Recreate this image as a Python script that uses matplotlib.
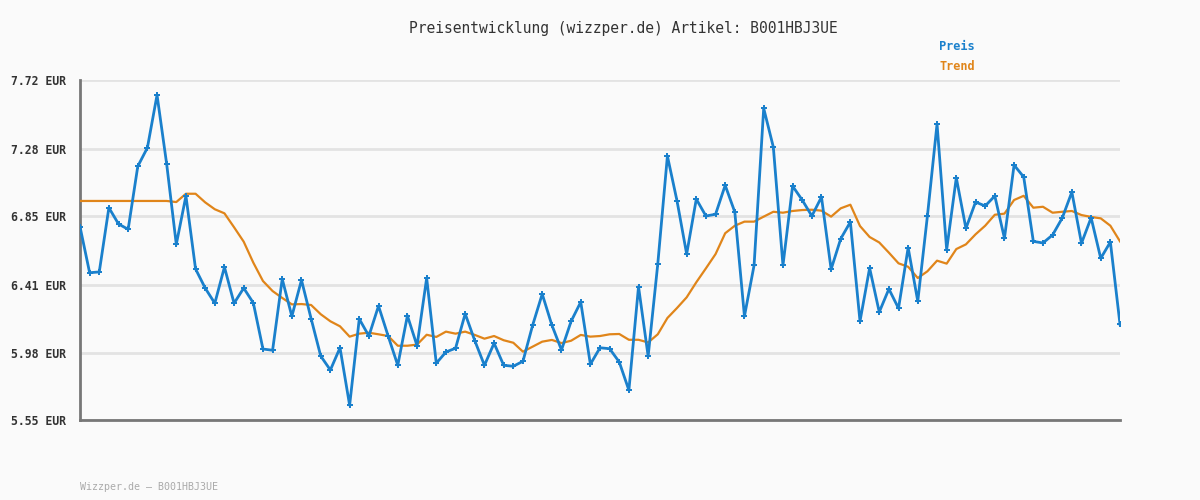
import matplotlib
matplotlib.use('Agg')
import matplotlib.pyplot as plt

# price readings (EUR), one per sample
preis = [6.784, 6.490, 6.495, 6.905, 6.801, 6.767, 7.169, 7.288, 7.624, 7.184,
         6.671, 6.980, 6.514, 6.392, 6.295, 6.526, 6.295, 6.392, 6.297, 6.003,
         5.995, 6.450, 6.212, 6.443, 6.197, 5.958, 5.869, 6.011, 5.644, 6.195,
         6.086, 6.278, 6.086, 5.899, 6.216, 6.024, 6.456, 5.912, 5.984, 6.008,
         6.228, 6.056, 5.899, 6.040, 5.899, 5.893, 5.925, 6.154, 6.354, 6.156,
         5.997, 6.180, 6.303, 5.906, 6.011, 6.005, 5.920, 5.740, 6.401, 5.957,
         6.546, 7.235, 6.948, 6.609, 6.960, 6.852, 6.863, 7.048, 6.877, 6.212,
         6.537, 7.539, 7.292, 6.537, 7.043, 6.954, 6.852, 6.973, 6.512, 6.707,
         6.814, 6.180, 6.520, 6.239, 6.386, 6.263, 6.650, 6.308, 6.852, 7.439,
         6.637, 7.096, 6.773, 6.941, 6.916, 6.980, 6.710, 7.177, 7.101, 6.690,
         6.680, 6.731, 6.839, 7.005, 6.678, 6.841, 6.582, 6.686, 6.161]

trend = [6.948, 6.948, 6.948, 6.948, 6.948, 6.948, 6.948, 6.948, 6.948, 6.948,
         6.941, 6.994, 6.994, 6.939, 6.895, 6.869, 6.780, 6.688, 6.554, 6.437,
         6.373, 6.329, 6.288, 6.290, 6.284, 6.225, 6.180, 6.148, 6.082, 6.101,
         6.107, 6.097, 6.086, 6.024, 6.024, 6.031, 6.094, 6.080, 6.114, 6.101,
         6.114, 6.093, 6.069, 6.086, 6.059, 6.043, 5.986, 6.018, 6.050, 6.061,
         6.041, 6.056, 6.093, 6.082, 6.086, 6.097, 6.099, 6.062, 6.062, 6.045,
         6.097, 6.201, 6.265, 6.333, 6.429, 6.518, 6.609, 6.742, 6.790, 6.816,
         6.816, 6.848, 6.879, 6.873, 6.884, 6.890, 6.892, 6.886, 6.848, 6.901,
         6.924, 6.788, 6.718, 6.683, 6.618, 6.550, 6.528, 6.456, 6.499, 6.567,
         6.548, 6.641, 6.671, 6.735, 6.790, 6.860, 6.867, 6.954, 6.981, 6.905,
         6.911, 6.873, 6.879, 6.884, 6.858, 6.846, 6.837, 6.790, 6.690]

ticks = [5.55, 5.98, 6.41, 6.85, 7.28, 7.72]
tick_labels = ['5.55 EUR', '5.98 EUR', '6.41 EUR', '6.85 EUR', '7.28 EUR', '7.72 EUR']

bg = '#fafafa'
blue = '#1a80cc'
orange = '#e0851a'
mono = 'DejaVu Sans Mono'

fig = plt.figure(figsize=(12, 5), dpi=100, facecolor=bg)
ax = fig.add_axes([80 / 1200, 80 / 500, 1040 / 1200, 340 / 500], facecolor=bg)

x = list(range(len(preis)))
ax.plot(x, trend, color=orange, lw=1.6, zorder=3)
ax.plot(x, preis, color=blue, lw=2, marker='P', ms=4, mew=0, zorder=4)

ax.set_xlim(0, len(preis) - 1)
ax.set_ylim(5.55, 7.72)
ax.set_yticks(ticks)
ax.set_yticklabels(tick_labels, fontfamily=mono, fontweight='bold', fontsize=8.3, color='#333333')
ax.set_xticks([])
ax.tick_params(axis='y', length=0, pad=10)
ax.grid(axis='y', color='#e3e3e3', lw=2)
ax.set_axisbelow(True)
for s in ['top', 'right']:
    ax.spines[s].set_visible(False)
for s in ['left', 'bottom']:
    ax.spines[s].set_color('#777777')
    ax.spines[s].set_linewidth(2)

fig.text(0.5 + 23 / 1200, 1 - 28 / 500, 'Preisentwicklung (wizzper.de) Artikel: B001HBJ3UE',
         ha='center', va='center', fontfamily=mono, fontsize=10.5, color='#333333')
fig.text(939 / 1200, 1 - 47 / 500, 'Preis', ha='left', va='center',
         fontfamily=mono, fontsize=8.6, fontweight='bold', color=blue)
fig.text(939 / 1200, 1 - 67 / 500, 'Trend', ha='left', va='center',
         fontfamily=mono, fontsize=8.6, fontweight='bold', color=orange)
fig.text(80 / 1200, 1 - 487 / 500, 'Wizzper.de – B001HBJ3UE', ha='left', va='center',
         fontfamily=mono, fontsize=7.2, color='#aaaaaa')

fig.savefig('out.png', dpi=100, facecolor=bg)
